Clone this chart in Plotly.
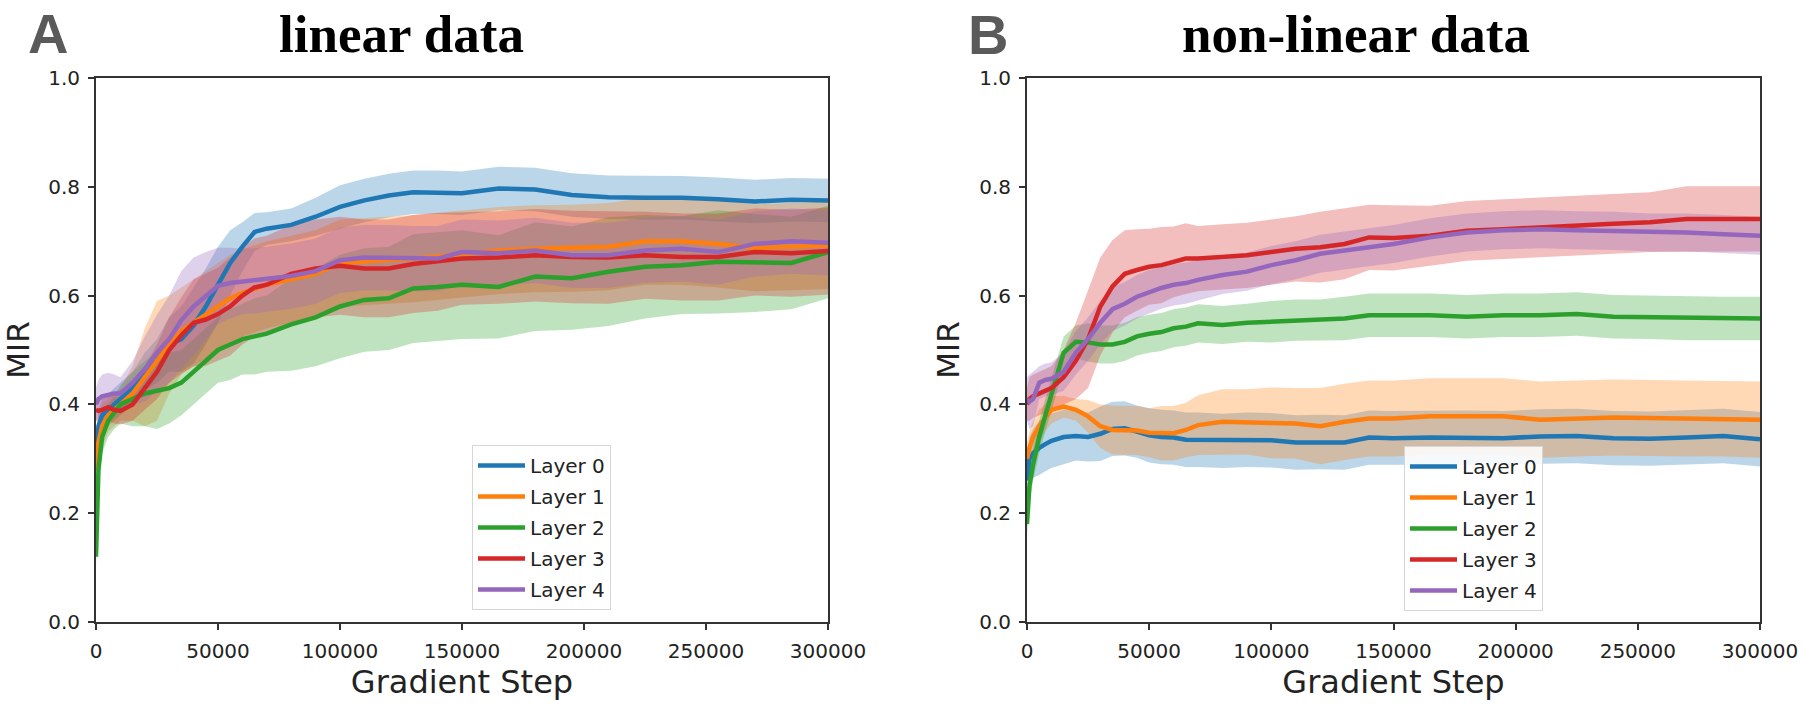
import plotly.graph_objects as go
from plotly.subplots import make_subplots

# Training steps at which MIR was recorded
steps = [0, 1000, 2500, 5000, 7500, 10000, 15000, 20000, 25000, 30000, 35000, 40000,
         45000, 50000, 55000, 60000, 65000, 70000, 80000, 90000, 100000, 110000, 120000,
         130000, 140000, 150000, 165000, 180000, 195000, 210000, 225000, 240000, 255000,
         270000, 285000, 300000]

layer_names = ["Layer 0", "Layer 1", "Layer 2", "Layer 3", "Layer 4"]
layer_colors = ["#1f77b4", "#ff7f0e", "#2ca02c", "#d62728", "#9467bd"]
band_colors = ["rgba(31,119,180,0.3)", "rgba(255,127,14,0.3)", "rgba(44,160,44,0.3)",
               "rgba(214,39,40,0.3)", "rgba(148,103,189,0.3)"]

x_ticks = [0, 50000, 100000, 150000, 200000, 250000, 300000]
y_ticks = [0.0, 0.2, 0.4, 0.6, 0.8, 1.0]

# ---- linear data: mean MIR and spread per layer ----
lin_l0_mean = [0.30, 0.36, 0.38, 0.39, 0.40, 0.41, 0.43, 0.46, 0.48, 0.51, 0.52, 0.545,
               0.58, 0.62, 0.66, 0.69, 0.717, 0.723, 0.73, 0.745, 0.763, 0.775, 0.784,
               0.79, 0.79, 0.788, 0.797, 0.795, 0.785, 0.781, 0.78, 0.78, 0.777, 0.773,
               0.776, 0.775]
lin_l0_sd = [0.02, 0.03, 0.03, 0.03, 0.03, 0.03, 0.03, 0.035, 0.04, 0.05, 0.06, 0.07,
             0.07, 0.07, 0.06, 0.045, 0.035, 0.03, 0.03, 0.035, 0.04, 0.04, 0.04,
             0.04, 0.04, 0.04, 0.04, 0.04, 0.04, 0.04, 0.04, 0.04, 0.04, 0.04, 0.04, 0.04]

lin_l1_mean = [0.28, 0.33, 0.36, 0.38, 0.39, 0.40, 0.42, 0.45, 0.48, 0.51, 0.535, 0.55,
               0.565, 0.58, 0.595, 0.605, 0.612, 0.62, 0.63, 0.64, 0.66, 0.662, 0.665,
               0.668, 0.672, 0.676, 0.683, 0.686, 0.687, 0.69, 0.70, 0.70, 0.695, 0.688,
               0.69, 0.692]
lin_l1_sd = [0.03, 0.04, 0.04, 0.03, 0.03, 0.03, 0.05, 0.09, 0.11, 0.09, 0.08, 0.08,
             0.08, 0.08, 0.08, 0.08, 0.08, 0.08, 0.08, 0.08, 0.08, 0.08, 0.08,
             0.08, 0.08, 0.08, 0.08, 0.08, 0.08, 0.08, 0.08, 0.08, 0.08, 0.08, 0.08, 0.08]

lin_l2_mean = [0.12, 0.28, 0.34, 0.37, 0.385, 0.40, 0.41, 0.42, 0.425, 0.43, 0.44, 0.46,
               0.48, 0.50, 0.51, 0.52, 0.525, 0.53, 0.547, 0.56, 0.58, 0.592, 0.595,
               0.613, 0.616, 0.62, 0.616, 0.635, 0.632, 0.644, 0.653, 0.656, 0.662, 0.66,
               0.66, 0.68]
lin_l2_sd = [0.02, 0.03, 0.03, 0.03, 0.03, 0.035, 0.05, 0.06, 0.07, 0.065, 0.06, 0.06,
             0.06, 0.06, 0.065, 0.065, 0.07, 0.07, 0.085, 0.09, 0.095, 0.095, 0.095,
             0.10, 0.10, 0.10, 0.095, 0.10, 0.095, 0.10, 0.095, 0.09, 0.095, 0.09, 0.085,
             0.085]

lin_l3_mean = [0.39, 0.388, 0.39, 0.395, 0.39, 0.388, 0.40, 0.43, 0.46, 0.50, 0.527, 0.55,
               0.556, 0.566, 0.58, 0.60, 0.615, 0.62, 0.64, 0.65, 0.655, 0.65, 0.65,
               0.658, 0.662, 0.668, 0.67, 0.674, 0.671, 0.67, 0.674, 0.671, 0.671, 0.68,
               0.678, 0.682]
lin_l3_sd = [0.02, 0.02, 0.025, 0.025, 0.025, 0.025, 0.03, 0.04, 0.05, 0.06, 0.07, 0.08,
             0.085, 0.085, 0.09, 0.09, 0.09, 0.09, 0.09, 0.09, 0.09, 0.09, 0.09,
             0.09, 0.09, 0.085, 0.085, 0.085, 0.085, 0.085, 0.08, 0.08, 0.08, 0.08, 0.08,
             0.08]

lin_l4_mean = [0.40, 0.41, 0.415, 0.418, 0.42, 0.42, 0.44, 0.465, 0.495, 0.52, 0.555, 0.58,
               0.60, 0.618, 0.623, 0.626, 0.627, 0.63, 0.636, 0.645, 0.665, 0.67, 0.67,
               0.668, 0.668, 0.68, 0.678, 0.683, 0.674, 0.674, 0.683, 0.686, 0.68, 0.695,
               0.70, 0.697]
lin_l4_sd = [0.03, 0.035, 0.04, 0.04, 0.035, 0.03, 0.04, 0.06, 0.07, 0.08, 0.09, 0.09,
             0.08, 0.07, 0.065, 0.06, 0.06, 0.06, 0.06, 0.06, 0.06, 0.06, 0.06,
             0.06, 0.06, 0.06, 0.06, 0.06, 0.06, 0.06, 0.06, 0.06, 0.06, 0.06, 0.06, 0.06]

# ---- non-linear data: mean MIR and spread per layer ----
nl_l0_mean = [0.26, 0.30, 0.31, 0.32, 0.327, 0.333, 0.34, 0.342, 0.34, 0.346, 0.355, 0.356,
              0.35, 0.343, 0.34, 0.339, 0.335, 0.335, 0.333, 0.335, 0.334, 0.33, 0.331,
              0.33, 0.339, 0.338, 0.339, 0.339, 0.338, 0.341, 0.342, 0.338, 0.337, 0.339,
              0.342, 0.336]
nl_l0_sd = [0.03, 0.04, 0.045, 0.05, 0.05, 0.05, 0.05, 0.045, 0.045, 0.05, 0.05, 0.05,
            0.048, 0.05, 0.05, 0.05, 0.05, 0.05, 0.05, 0.05, 0.05, 0.05, 0.05,
            0.05, 0.05, 0.05, 0.05, 0.05, 0.05, 0.05, 0.05, 0.05, 0.05, 0.05, 0.05, 0.05]

nl_l1_mean = [0.30, 0.32, 0.34, 0.36, 0.375, 0.39, 0.396, 0.39, 0.378, 0.36, 0.353, 0.353,
              0.352, 0.348, 0.347, 0.347, 0.353, 0.362, 0.368, 0.368, 0.366, 0.365, 0.36,
              0.368, 0.374, 0.374, 0.378, 0.378, 0.378, 0.372, 0.374, 0.376, 0.375, 0.374,
              0.374, 0.372]
nl_l1_sd = [0.03, 0.03, 0.03, 0.03, 0.025, 0.025, 0.02, 0.02, 0.03, 0.04, 0.045, 0.045,
            0.045, 0.045, 0.05, 0.05, 0.05, 0.055, 0.06, 0.06, 0.065, 0.065, 0.07,
            0.07, 0.07, 0.07, 0.07, 0.07, 0.07, 0.07, 0.07, 0.07, 0.07, 0.07, 0.07, 0.07]

nl_l2_mean = [0.18, 0.25, 0.29, 0.34, 0.38, 0.42, 0.495, 0.515, 0.514, 0.51, 0.51, 0.515,
              0.525, 0.53, 0.533, 0.54, 0.543, 0.549, 0.546, 0.55, 0.552, 0.555, 0.555,
              0.558, 0.564, 0.564, 0.564, 0.561, 0.564, 0.564, 0.566, 0.561, 0.56, 0.558,
              0.558, 0.558]
nl_l2_sd = [0.02, 0.03, 0.03, 0.03, 0.03, 0.03, 0.03, 0.03, 0.035, 0.035, 0.035, 0.035,
            0.035, 0.035, 0.035, 0.035, 0.035, 0.035, 0.035, 0.035, 0.038, 0.038, 0.038,
            0.04, 0.04, 0.04, 0.04, 0.04, 0.04, 0.04, 0.04, 0.04, 0.04, 0.04, 0.04, 0.04]

nl_l3_mean = [0.40, 0.41, 0.415, 0.42, 0.425, 0.43, 0.45, 0.48, 0.52, 0.58, 0.617, 0.64,
              0.647, 0.653, 0.656, 0.662, 0.668, 0.668, 0.671, 0.674, 0.68, 0.686, 0.689,
              0.695, 0.707, 0.706, 0.71, 0.719, 0.722, 0.726, 0.729, 0.732, 0.735, 0.741,
              0.741, 0.741]
nl_l3_sd = [0.03, 0.04, 0.04, 0.04, 0.04, 0.04, 0.05, 0.07, 0.09, 0.09, 0.085, 0.08,
            0.075, 0.07, 0.07, 0.065, 0.065, 0.06, 0.06, 0.06, 0.06, 0.06, 0.065,
            0.065, 0.06, 0.06, 0.055, 0.055, 0.055, 0.055, 0.055, 0.055, 0.055, 0.06,
            0.06, 0.06]

nl_l4_mean = [0.41, 0.405, 0.41, 0.44, 0.445, 0.447, 0.46, 0.495, 0.52, 0.55, 0.575, 0.585,
              0.598, 0.607, 0.614, 0.62, 0.623, 0.629, 0.638, 0.644, 0.656, 0.665, 0.677,
              0.683, 0.689, 0.695, 0.707, 0.716, 0.72, 0.722, 0.72, 0.719, 0.716, 0.716,
              0.713, 0.71]
nl_l4_sd = [0.04, 0.05, 0.05, 0.03, 0.03, 0.03, 0.035, 0.04, 0.04, 0.04, 0.04, 0.04,
            0.04, 0.04, 0.038, 0.038, 0.038, 0.038, 0.035, 0.035, 0.035, 0.035, 0.035,
            0.035, 0.035, 0.035, 0.035, 0.035, 0.035, 0.035, 0.035, 0.035, 0.035, 0.035,
            0.035, 0.035]

linear_series = [(lin_l0_mean, lin_l0_sd), (lin_l1_mean, lin_l1_sd), (lin_l2_mean, lin_l2_sd),
                 (lin_l3_mean, lin_l3_sd), (lin_l4_mean, lin_l4_sd)]
nonlinear_series = [(nl_l0_mean, nl_l0_sd), (nl_l1_mean, nl_l1_sd), (nl_l2_mean, nl_l2_sd),
                    (nl_l3_mean, nl_l3_sd), (nl_l4_mean, nl_l4_sd)]

W, H = 1804, 724
fig = make_subplots(rows=1, cols=2)


def add_panel(series, col, legend_name):
    # shaded spread bands first, then the mean curves on top
    for i, (mean, sd) in enumerate(series):
        upper = [m + s for m, s in zip(mean, sd)]
        lower = [m - s for m, s in zip(mean, sd)]
        fig.add_trace(go.Scatter(
            x=steps + steps[::-1], y=upper + lower[::-1],
            fill="toself", fillcolor=band_colors[i], line=dict(width=0),
            mode="lines", hoverinfo="skip", showlegend=False,
            legendgroup=f"{legend_name}{i}", legend=legend_name,
        ), row=1, col=col)
    for i, (mean, sd) in enumerate(series):
        fig.add_trace(go.Scatter(
            x=steps, y=mean, mode="lines", name=layer_names[i],
            line=dict(color=layer_colors[i], width=4.5),
            legendgroup=f"{legend_name}{i}", legend=legend_name,
        ), row=1, col=col)


add_panel(linear_series, 1, "legend")
add_panel(nonlinear_series, 2, "legend2")

axis_color = "#333333"
tick_font = dict(family="DejaVu Sans", size=20, color="#222222")
title_font = dict(family="DejaVu Sans", size=32, color="#222222")

x_common = dict(
    range=[0, 300000], tickvals=x_ticks, ticktext=[str(v) for v in x_ticks],
    showline=True, linecolor=axis_color, linewidth=1.8, mirror=True,
    ticks="outside", ticklen=6, tickwidth=1.5, tickcolor=axis_color,
    showgrid=False, zeroline=False, tickfont=tick_font, ticklabelstandoff=4,
    automargin=False,
    title=dict(text="Gradient Step", font=title_font, standoff=7),
)
y_common = dict(
    range=[0, 1], tickvals=y_ticks, ticktext=[f"{v:.1f}" for v in y_ticks],
    showline=True, linecolor=axis_color, linewidth=1.8, mirror=True,
    ticks="outside", ticklen=6, tickwidth=1.5, tickcolor=axis_color,
    showgrid=False, zeroline=False, tickfont=tick_font, ticklabelstandoff=4,
    automargin=False,
    title=dict(text="MIR", font=dict(family="DejaVu Sans", size=31, color="#222222"),
               standoff=10),
)

fig.update_xaxes(**x_common)
fig.update_yaxes(**y_common)
fig.update_layout(
    xaxis=dict(domain=[96 / W, 828 / W]),
    xaxis2=dict(domain=[1027 / W, 1760 / W]),
)

legend_common = dict(
    bgcolor="rgba(255,255,255,0.85)", bordercolor="#d6d6d6", borderwidth=1,
    font=dict(family="DejaVu Sans", size=20, color="#222222"),
    xanchor="left", yanchor="top", tracegroupgap=2, itemwidth=47,
    traceorder="grouped",
)
plot_top, plot_bottom = 78, 622
ph = plot_bottom - plot_top


def py(v):
    return (plot_bottom - v) / ph


fig.update_layout(
    template="none",
    width=W, height=H,
    margin=dict(l=0, r=0, t=plot_top, b=H - plot_bottom, autoexpand=False),
    paper_bgcolor="white", plot_bgcolor="white",
    legend=dict(x=472 / W, y=py(445), **legend_common),
    legend2=dict(x=1404 / W, y=py(446), **legend_common),
    annotations=[
        dict(text="<b>A</b>", x=26 / W, y=py(0), xref="paper", yref="paper",
             xanchor="left", yanchor="top", showarrow=False,
             font=dict(family="Liberation Sans", size=56, color="#5a5a5a")),
        dict(text="<b>B</b>", x=966 / W, y=py(1), xref="paper", yref="paper",
             xanchor="left", yanchor="top", showarrow=False,
             font=dict(family="Liberation Sans", size=56, color="#5a5a5a")),
        dict(text="<b>linear data</b>", x=401 / W, y=py(34), xref="paper", yref="paper",
             xanchor="center", yanchor="middle", showarrow=False,
             font=dict(family="Liberation Serif", size=53, color="#000000")),
        dict(text="<b>non-linear data</b>", x=1356 / W, y=py(34), xref="paper", yref="paper",
             xanchor="center", yanchor="middle", showarrow=False,
             font=dict(family="Liberation Serif", size=53, color="#000000")),
    ],
)

fig.write_html("out.html")
